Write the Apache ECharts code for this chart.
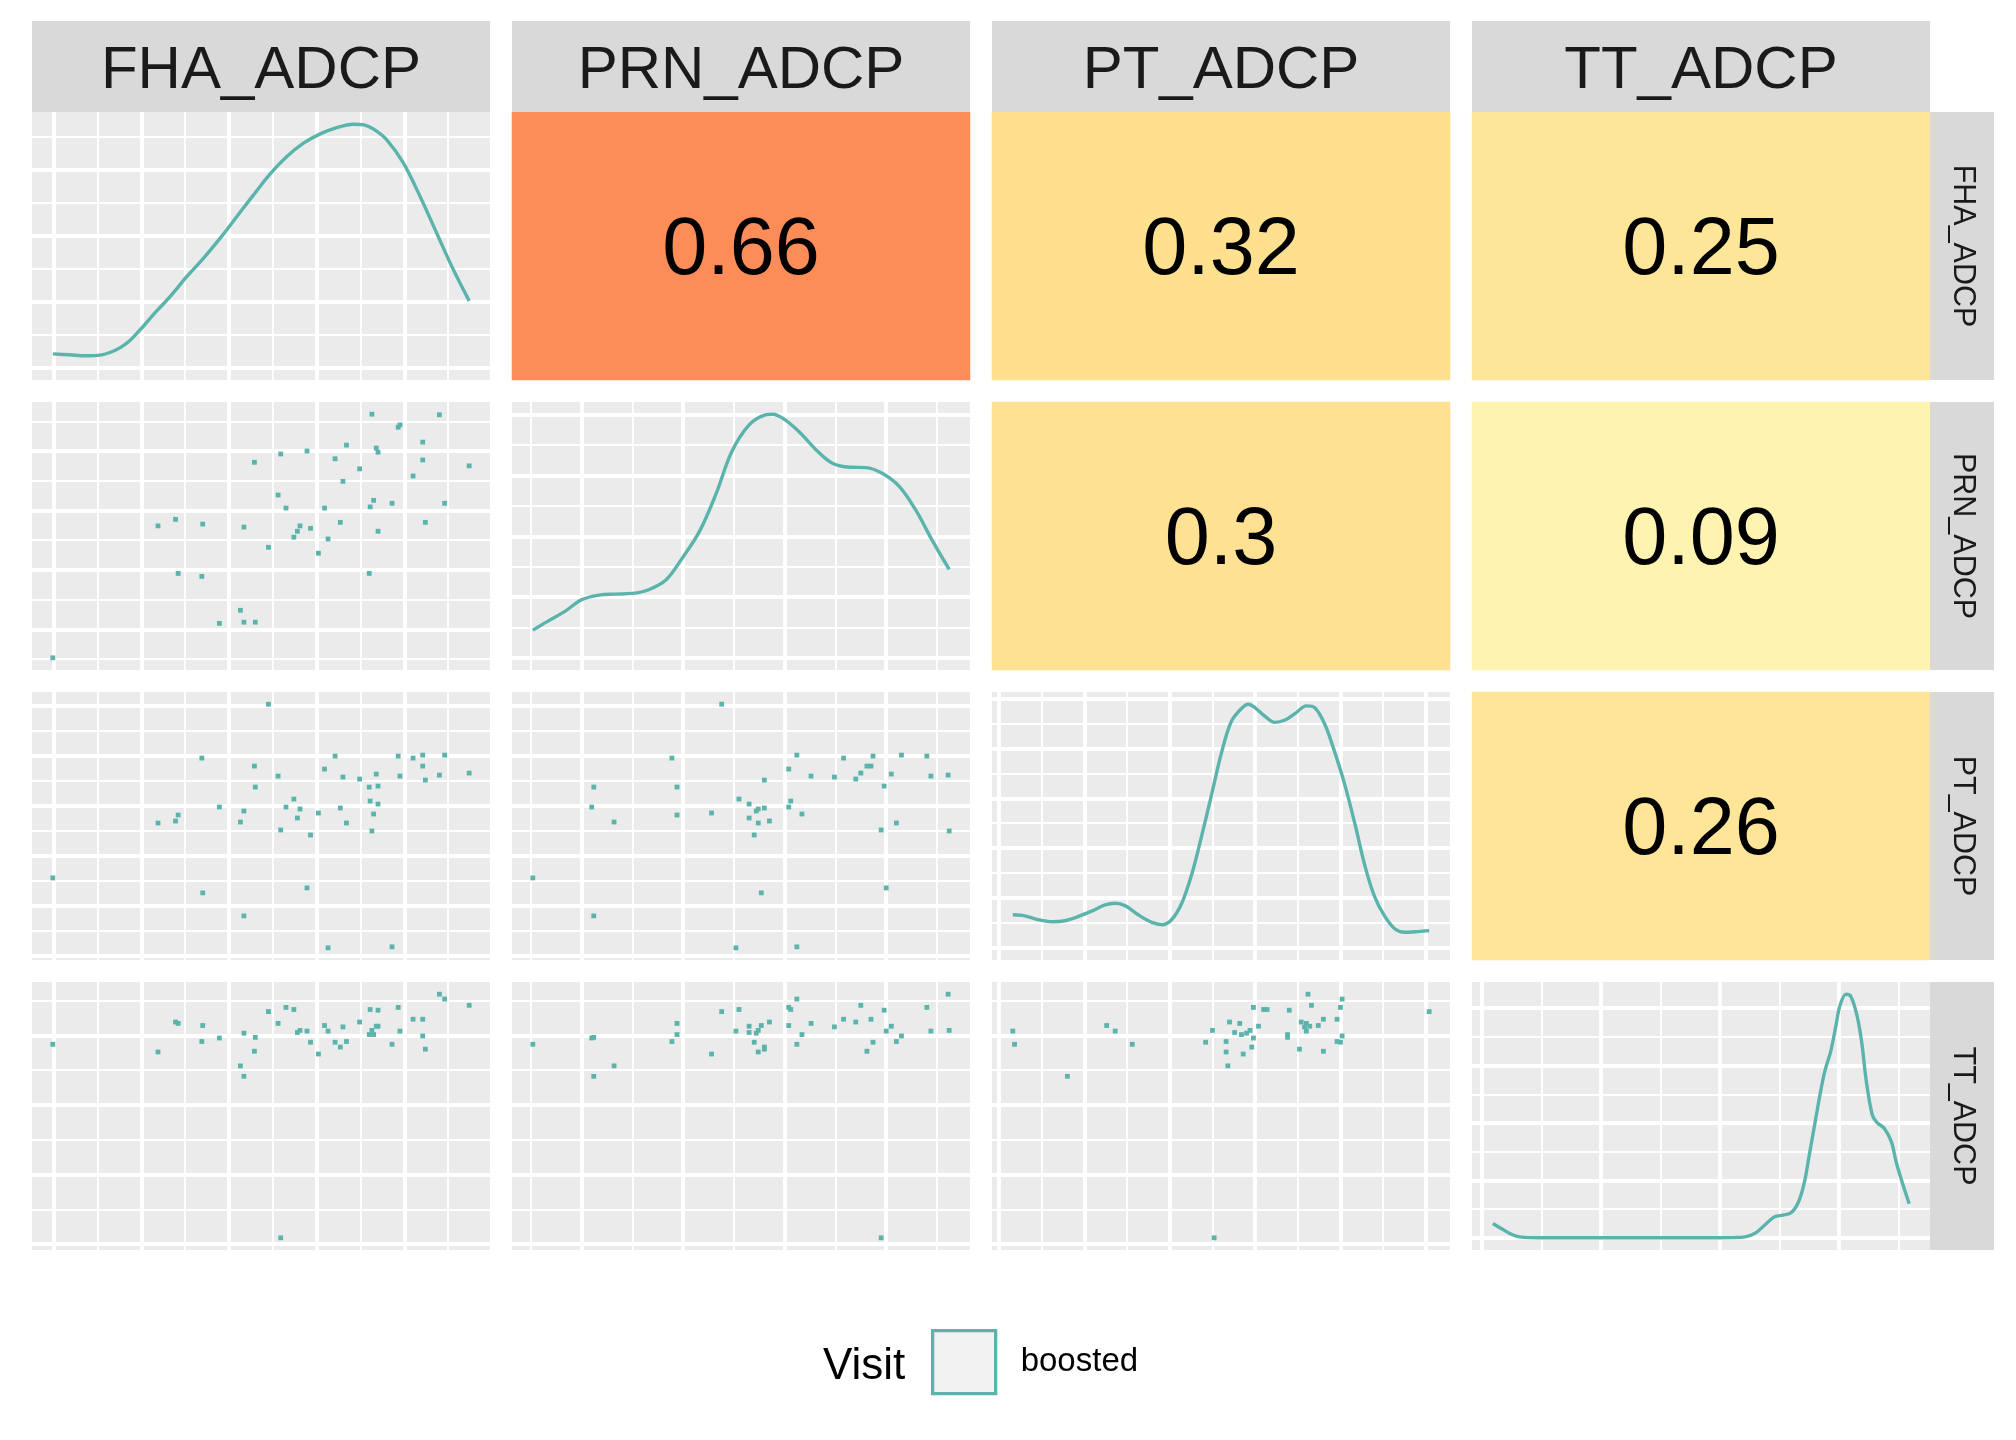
<!DOCTYPE html>
<html>
<head>
<meta charset="utf-8">
<script src="https://cdn.jsdelivr.net/npm/echarts@6/dist/echarts.min.js"></script>
<style>
html,body{margin:0;padding:0;background:#ffffff;}
#chart{width:2016px;height:1440px;}
</style>
</head>
<body>
<div id="chart"></div>
<script>
// ---------------- DATA ----------------
const VARIABLES = ['FHA_ADCP', 'PRN_ADCP', 'PT_ADCP', 'TT_ADCP'];
const GROUP_NAME = 'boosted';
const LEGEND_TITLE = 'Visit';

const FHA = [0.99, 2.19, 2.39, 2.42, 2.69, 2.70, 2.89, 3.13, 3.17, 3.17, 3.29, 3.30, 3.45, 3.56, 3.59, 3.65, 3.74, 3.78, 3.81, 3.89, 3.93, 4.02, 4.09, 4.13, 4.21, 4.27, 4.30, 4.34, 4.49, 4.60, 4.61, 4.63, 4.65, 4.68, 4.70, 4.70, 4.86, 4.93, 4.95, 5.10, 5.21, 5.21, 5.24, 5.40, 5.46, 5.74];
const PRN = [0.52, 2.74, 2.85, 1.94, 1.89, 2.77, 1.10, 1.32, 2.72, 1.12, 3.81, 1.12, 2.38, 3.26, 3.95, 3.04, 2.55, 2.65, 2.74, 4.00, 2.70, 2.28, 3.04, 2.52, 3.87, 2.80, 3.49, 4.10, 3.70, 1.94, 3.06, 4.62, 3.17, 4.05, 3.98, 2.65, 3.12, 4.40, 4.44, 3.58, 4.15, 3.85, 2.80, 4.61, 3.12, 3.75];
const PT  = [2.56, 3.66, 3.70, 3.82, 4.96, 2.26, 3.98, 3.68, 3.90, 1.80, 4.80, 4.38, 6.04, 4.60, 3.52, 3.98, 4.14, 3.76, 3.94, 2.36, 3.42, 3.86, 4.74, 1.16, 5.00, 3.96, 4.58, 3.66, 4.54, 4.38, 4.10, 3.50, 3.84, 4.64, 4.40, 4.04, 1.18, 5.00, 4.60, 4.96, 5.02, 4.80, 4.52, 4.62, 5.02, 4.66];
const TT  = [3.87, 3.76, 4.19, 4.17, 3.91, 4.14, 3.96, 3.56, 4.03, 3.41, 3.77, 3.97, 4.34, 4.17, 1.09, 4.40, 4.37, 4.04, 4.07, 4.06, 3.90, 3.73, 4.14, 4.06, 3.90, 3.83, 4.12, 3.91, 4.19, 4.01, 4.37, 4.07, 4.01, 4.13, 4.36, 4.13, 3.87, 4.40, 4.06, 4.23, 3.99, 4.23, 3.80, 4.59, 4.52, 4.43];

// density curves [value, density]
const FHA_DENSITY = [[0.99,0.0212],[1.18,0.0197],[1.37,0.0182],[1.53,0.0192],[1.64,0.0232],[1.75,0.0298],[1.87,0.0414],[2.02,0.0626],[2.17,0.0854],[2.33,0.1081],[2.52,0.1384],[2.71,0.1662],[2.90,0.1965],[3.09,0.2293],[3.28,0.2621],[3.47,0.2939],[3.66,0.3202],[3.85,0.3404],[4.04,0.3545],[4.23,0.3641],[4.42,0.3692],[4.54,0.3682],[4.65,0.3616],[4.80,0.3455],[4.99,0.3101],[5.18,0.2596],[5.37,0.2040],[5.56,0.1485],[5.74,0.1015]];
const PRN_DENSITY = [[0.52,0.0456],[0.67,0.0604],[0.84,0.0769],[1.00,0.0956],[1.17,0.1033],[1.33,0.1049],[1.50,0.1060],[1.66,0.1121],[1.83,0.1280],[1.99,0.1637],[2.16,0.2077],[2.32,0.2681],[2.48,0.3396],[2.65,0.3835],[2.81,0.4000],[2.88,0.4011],[2.98,0.3945],[3.14,0.3725],[3.31,0.3423],[3.47,0.3203],[3.64,0.3137],[3.80,0.3132],[3.96,0.3038],[4.13,0.2819],[4.29,0.2434],[4.46,0.1912],[4.62,0.1456]];
const PT_DENSITY = [[1.16,0.0662],[1.30,0.0642],[1.46,0.0563],[1.62,0.0523],[1.77,0.0543],[1.93,0.0629],[2.09,0.0742],[2.24,0.0861],[2.36,0.0894],[2.48,0.0841],[2.63,0.0662],[2.79,0.0510],[2.91,0.0464],[3.02,0.0563],[3.14,0.0894],[3.26,0.1490],[3.37,0.2219],[3.49,0.3079],[3.61,0.3940],[3.72,0.4536],[3.84,0.4801],[3.92,0.4887],[4.00,0.4815],[4.12,0.4636],[4.23,0.4523],[4.35,0.4570],[4.47,0.4702],[4.60,0.4854],[4.70,0.4815],[4.82,0.4470],[4.93,0.3940],[5.05,0.3278],[5.17,0.2483],[5.29,0.1623],[5.40,0.1026],[5.52,0.0629],[5.64,0.0377],[5.75,0.0311],[5.91,0.0325],[6.04,0.0344]];
const TT_DENSITY = [[1.09,0.0500],[1.16,0.0326],[1.25,0.0116],[1.33,0.0023],[1.48,0.0003],[1.77,0.0002],[2.07,0.0002],[2.36,0.0002],[2.65,0.0002],[2.95,0.0003],[3.12,0.0008],[3.21,0.0035],[3.30,0.0174],[3.39,0.0500],[3.46,0.0733],[3.53,0.0791],[3.60,0.0884],[3.66,0.1256],[3.71,0.1953],[3.75,0.2884],[3.80,0.4047],[3.84,0.4977],[3.88,0.5791],[3.93,0.6488],[3.97,0.7302],[4.01,0.8116],[4.06,0.8488],[4.10,0.8407],[4.15,0.7767],[4.19,0.6837],[4.23,0.5442],[4.28,0.4279],[4.32,0.4012],[4.38,0.3814],[4.44,0.3349],[4.48,0.2651],[4.53,0.1953],[4.59,0.1186]];

// correlation cells (upper triangle): row variable index, column variable index, value
const CORR_ROW = [0, 0, 0, 1, 1, 2];
const CORR_COL = [1, 2, 3, 2, 3, 3];
const CORR_VALUE = [0.66, 0.32, 0.25, 0.3, 0.09, 0.26];

// break steps of each variable's scale and of each density scale
const VALUE_STEP = [1, 1, 1, 1];
const DENSITY_STEP = [0.1, 0.1, 0.1, 0.2];

// ---------------- STYLE / LAYOUT ----------------
const FONT = '"Liberation Sans", Arial, Helvetica, sans-serif';
const TEAL = '#5AB4AC';
const CORR_FILL = ['#FC8D59', '#FEE08F', '#FEE698', '#FEE192', '#FFF3B2', '#FEE597'];
const COL_X = [32, 512, 992, 1472];
const ROW_Y = [112, 402, 692, 982];
const PW = 458, PH = 268;
const STRIP_TOP = 21, STRIP_W = 64;
const MAJOR_W = 3.9, MINOR_W = 2.0;

// ---------------- BUILD ----------------
const VALUES = [FHA, PRN, PT, TT];
const DENSITIES = [FHA_DENSITY, PRN_DENSITY, PT_DENSITY, TT_DENSITY];

function expanded(lo, hi) {
  const r = hi - lo;
  return [lo - 0.05 * r, hi + 0.05 * r];
}
function valueLimits(arr) {
  return expanded(Math.min.apply(null, arr), Math.max.apply(null, arr));
}
function densityLimits(curve) {
  const ys = curve.map(p => p[1]);
  return expanded(0, Math.max.apply(null, ys));
}
function gridLines(key, lim, step) {
  const half = step / 2, out = [];
  for (let k = Math.ceil(lim[0] / half - 1e-9); k * half <= lim[1] + 1e-9; k++) {
    const major = Math.abs(k % 2) === 0;
    const item = {};
    item[key] = +(k * half).toFixed(6);
    item.lineStyle = { color: '#FFFFFF', width: major ? MAJOR_W : MINOR_W, type: 'solid', opacity: 1 };
    out.push(item);
  }
  return out;
}
function markLine(xLim, xStep, yLim, yStep) {
  return {
    silent: true,
    z: 1,
    animation: false,
    symbol: ['none', 'none'],
    label: { show: false },
    emphasis: { disabled: true },
    data: gridLines('xAxis', xLim, xStep).concat(gridLines('yAxis', yLim, yStep))
  };
}

const grid = [], xAxis = [], yAxis = [];
const scatterSeries = [], lineSeries = [], cellSeries = [];
const hiddenAxis = { show: false, axisLine: { show: false }, axisTick: { show: false }, axisLabel: { show: false }, splitLine: { show: false } };

for (let i = 0; i < 4; i++) {
  for (let j = 0; j < 4; j++) {
    const gi = grid.length;
    grid.push({
      left: COL_X[j], top: ROW_Y[i], width: PW, height: PH,
      show: i >= j, backgroundColor: '#EBEBEB', borderWidth: 0, borderColor: 'transparent',
      containLabel: false
    });
    if (i < j) {
      xAxis.push(Object.assign({ gridIndex: gi, type: 'category', data: [VARIABLES[j]] }, hiddenAxis));
      yAxis.push(Object.assign({ gridIndex: gi, type: 'category', data: [VARIABLES[i]] }, hiddenAxis));
      const k = CORR_ROW.findIndex((r, n) => r === i && CORR_COL[n] === j);
      cellSeries.push({
        type: 'heatmap', xAxisIndex: gi, yAxisIndex: gi, silent: true,
        data: [{ value: [0, 0, CORR_VALUE[k]], itemStyle: { color: CORR_FILL[k], borderWidth: 0 } }],
        label: { show: true, formatter: p => String(p.value[2]), fontSize: 81, color: '#000000', fontFamily: FONT, offset: [0, 6] },
        emphasis: { disabled: true }
      });
      continue;
    }
    const xLim = valueLimits(VALUES[j]);
    const yLim = (i === j) ? densityLimits(DENSITIES[i]) : valueLimits(VALUES[i]);
    xAxis.push(Object.assign({ gridIndex: gi, type: 'value', min: xLim[0], max: xLim[1], scale: true }, hiddenAxis));
    yAxis.push(Object.assign({ gridIndex: gi, type: 'value', min: yLim[0], max: yLim[1], scale: true }, hiddenAxis));
    if (i === j) {
      lineSeries.push({
        type: 'line', name: GROUP_NAME, xAxisIndex: gi, yAxisIndex: gi,
        data: DENSITIES[i], showSymbol: false, smooth: 0.35, silent: true,
        lineStyle: { color: TEAL, width: 3.4 }, itemStyle: { color: TEAL }, z: 3,
        markLine: markLine(xLim, VALUE_STEP[j], yLim, DENSITY_STEP[i])
      });
    } else {
      const xs = VALUES[j], ys = VALUES[i];
      scatterSeries.push({
        type: 'scatter', name: GROUP_NAME, xAxisIndex: gi, yAxisIndex: gi,
        data: xs.map((x, n) => [x, ys[n]]), symbol: 'rect', symbolSize: 4.8, silent: true,
        itemStyle: { color: TEAL, opacity: 1 }, z: 3,
        markLine: markLine(xLim, VALUE_STEP[j], yLim, VALUE_STEP[i])
      });
    }
  }
}

const graphic = [];
VARIABLES.forEach((name, j) => {
  graphic.push({ type: 'rect', silent: true, z: 10, shape: { x: COL_X[j], y: STRIP_TOP, width: PW, height: ROW_Y[0] - STRIP_TOP }, style: { fill: '#D9D9D9' } });
  graphic.push({ type: 'text', silent: true, z: 11, x: COL_X[j] + PW / 2, y: (STRIP_TOP + ROW_Y[0]) / 2 + 5,
    style: { text: name, fontSize: 60, fill: '#1A1A1A', fontFamily: FONT, align: 'center', verticalAlign: 'middle' } });
});
VARIABLES.forEach((name, i) => {
  const rx = COL_X[3] + PW;
  graphic.push({ type: 'rect', silent: true, z: 10, shape: { x: rx, y: ROW_Y[i], width: STRIP_W, height: PH }, style: { fill: '#D9D9D9' } });
  graphic.push({ type: 'text', silent: true, z: 11, x: rx + STRIP_W / 2, y: ROW_Y[i] + PH / 2, rotation: -Math.PI / 2,
    style: { text: name, fontSize: 30.5, fill: '#1A1A1A', fontFamily: FONT, align: 'center', verticalAlign: 'middle' } });
});
graphic.push({ type: 'text', silent: true, z: 11, x: 823, y: 1367,
  style: { text: LEGEND_TITLE, fontSize: 44, fill: '#000000', fontFamily: FONT, align: 'left', verticalAlign: 'middle' } });

const option = {
  animation: false,
  backgroundColor: '#FFFFFF',
  textStyle: { fontFamily: FONT },
  grid: grid,
  xAxis: xAxis,
  yAxis: yAxis,
  legend: {
    show: true,
    selectedMode: false,
    left: 931, top: 1329, padding: 0,
    itemWidth: 63, itemHeight: 63,
    data: [{ name: GROUP_NAME, icon: 'rect', itemStyle: { color: '#F2F2F2', borderColor: TEAL, borderWidth: 3.3 } }],
    textStyle: { fontSize: 33, color: '#000000', fontFamily: FONT, padding: [6, 0, 0, 20] }
  },
  series: scatterSeries.concat(lineSeries, cellSeries),
  graphic: graphic
};

const chart = echarts.init(document.getElementById('chart'), null, { renderer: 'canvas', width: 2016, height: 1440 });
chart.setOption(option);
</script>
</body>
</html>
